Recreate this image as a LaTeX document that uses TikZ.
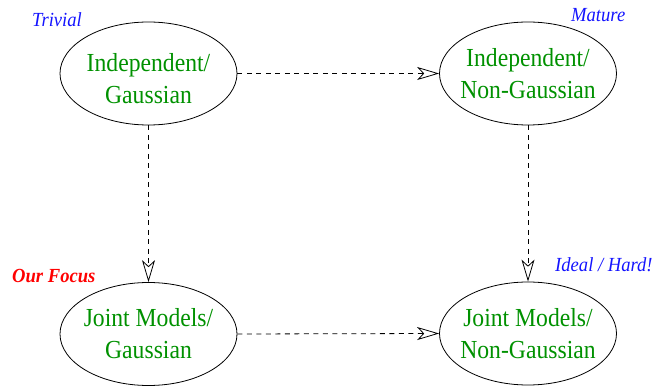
\documentclass[tikz,border=0pt]{standalone}
\usepackage{fontspec}
\setmainfont{Liberation Serif}
\newfontfamily\boxfont[FakeStretch=0.91]{Liberation Serif}
\newfontfamily\tagfont[FakeStretch=0.93]{Liberation Serif}
\usetikzlibrary{shapes.geometric,arrows.meta}
\definecolor{modelgreen}{RGB}{0,145,0}
\definecolor{tagblue}{RGB}{20,20,255}
\definecolor{tagred}{RGB}{255,0,0}
\tikzset{
  model/.style={ellipse, draw, line width=0.8pt, minimum width=177pt,
    minimum height=103pt, inner xsep=-20pt, inner ysep=0pt, align=center,
    text=modelgreen, font=\boxfont\fontsize{26}{32}\selectfont},
  link/.style={line width=0.8pt, dash pattern=on 5pt off 4.5pt,
    -{Stealth[open, length=22pt, width=13pt, inset=6pt, line width=0.8pt]}},
  tag/.style={anchor=base west, inner sep=0pt, text=tagblue,
    font=\tagfont\itshape\fontsize{20}{24}\selectfont},
}
\begin{document}
\begin{tikzpicture}[x=1pt, y=-1pt]
  \useasboundingbox (0,0) rectangle (656,387);

  % the four model classes (a taller first line sets the text a little low)
  \node[model] (ig)  at (148.5,73.5) {\rule{0pt}{28pt}Independent/\\Gaussian};
  \node[model] (ing) at (528,73.5)   {Independent/\\Non-Gaussian};
  \node[model] (jg)  at (148.5,334)  {Joint Models/\\Gaussian};
  \node[model] (jng) at (528,333.5)  {Joint Models/\\Non-Gaussian};

  % relaxing one assumption at a time
  \draw[link] (ig.east) -- (ing.west);
  \draw[link] (jg.east) -- (jng.west);
  \draw[link] (ig.south) -- (jg.north);
  \draw[link] (ing.south) -- (jng.north);

  % difficulty tags
  \node[tag] (tt) at (32,27)   {Trivial};
  \node[tag] (tm) at (571,22)  {Mature};
  \node[tag] (th) at (555,272) {Ideal / Hard!};
  \node[tag, text=tagred, font=\tagfont\bfseries\itshape\fontsize{20}{24}\selectfont]
    (tf) at (12,283) {Our Focus};
\end{tikzpicture}
\end{document}
